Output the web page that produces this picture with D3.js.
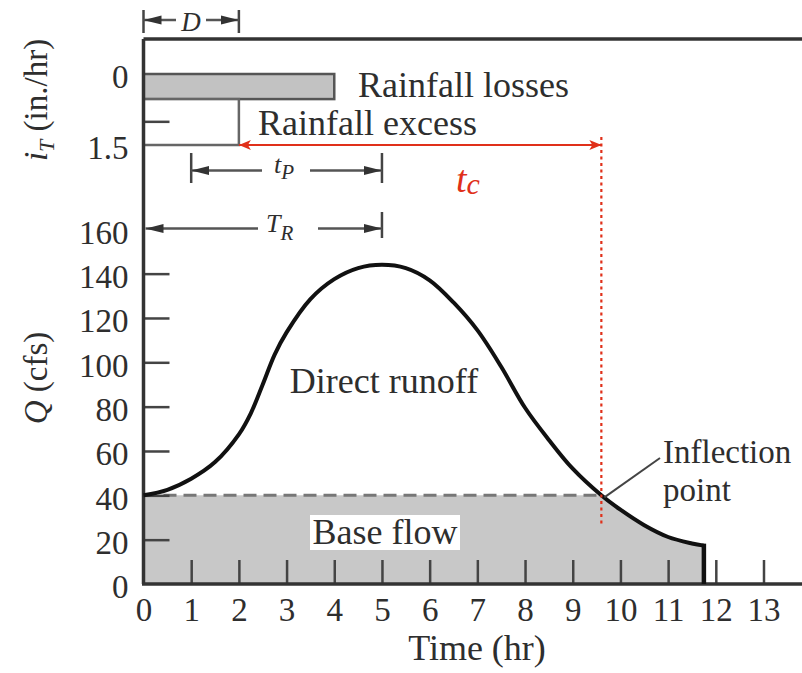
<!DOCTYPE html>
<html><head><meta charset="utf-8">
<script src="https://cdn.jsdelivr.net/npm/d3@7"></script>
<style>
body{margin:0;background:#fff}
svg{display:block}
svg text{font-family:"Liberation Serif","Tinos","Times New Roman","Times","Nimbus Roman","DejaVu Serif",serif;fill:#2e2e2e}
</style>
</head><body>
<svg id="c" width="802" height="673"></svg>
<script>
// ---- data ----
const timeHr  = [0,0.5,1,1.5,2,2.25,2.5,2.75,3,3.5,4,4.5,5,5.5,6,6.5,7,7.5,8,8.5,9,9.6,10,10.5,11,11.5,11.75];
const flowCfs = [40,42.5,47.5,55,67.5,77,90,103.5,113.5,128.5,137.5,142.5,144,142.5,137,127,114.5,98,79.5,65,52,40,33.5,26.5,21.2,18.3,17.3];
const baseFlowCfs = 40;
const inflectionHr = 9.6;

const rainSeries = ["Rainfall losses","Rainfall excess"];
const rainEndHr  = [4, 2];
const rainLow    = [0, 0.53];
const rainHigh   = [0.53, 1.5];

const timeTicks = [0,1,2,3,4,5,6,7,8,9,10,11,12,13];
const qTicks    = [0,20,40,60,80,100,120,140,160];
const rainTicks = [0,1.5];
const rainMinorTicks = [1];

const spanD  = [0,2];
const spanTp = [1,5];
const spanTr = [0,5];
const spanTc = [2,9.6];

const FONT = "Liberation Serif, Tinos, Times New Roman, Times, Nimbus Roman, DejaVu Serif, serif";

// ---- scales ----
const svg = d3.select("#c");
const x = d3.scaleLinear().domain([0,13]).range([143.5,763.5]);
const yQ = d3.scaleLinear().domain([0,160]).range([584,229.3]);
const yR = d3.scaleLinear().domain([0,1.5]).range([74,145]);

const hydro = timeHr.map((t,i)=>({t, q:flowCfs[i]}));
const smooth = d3.curveCatmullRom.alpha(0.5);

// markers
const defs = svg.append("defs");
defs.append("marker").attr("id","ag").attr("viewBox","0 0 18 10")
  .attr("refX",18).attr("refY",5).attr("markerWidth",18).attr("markerHeight",10)
  .attr("markerUnits","userSpaceOnUse").attr("orient","auto-start-reverse")
  .append("path").attr("d","M0,0.5L18,5L0,9.5Z").attr("fill","#333");
defs.append("marker").attr("id","ar").attr("viewBox","0 0 12 10")
  .attr("refX",12).attr("refY",5).attr("markerWidth",12).attr("markerHeight",10)
  .attr("markerUnits","userSpaceOnUse").attr("orient","auto-start-reverse")
  .append("path").attr("d","M0,0L12,5L0,10L3,5Z").attr("fill","#e0301a");
defs.append("clipPath").attr("id","baseclip").append("rect")
  .attr("x",x(0)).attr("y",yQ(baseFlowCfs)).attr("width",700).attr("height",yQ(0)-yQ(baseFlowCfs));

// ---- base flow fill ----
const area = d3.area().x(d=>x(d.t)).y0(yQ(0)).y1(d=>yQ(d.q)).curve(smooth);
svg.append("path").datum(hydro).attr("d",area).attr("fill","#c8c8c8").attr("clip-path","url(#baseclip)");

// dashed base-flow line
svg.append("line").attr("x1",x(0)).attr("x2",x(inflectionHr))
  .attr("y1",yQ(baseFlowCfs)).attr("y2",yQ(baseFlowCfs))
  .attr("stroke","#777").attr("stroke-width",3).attr("stroke-dasharray","13,7");

// Base flow label
svg.append("rect").attr("x",310).attr("y",515).attr("width",150).attr("height",35).attr("fill","#fff");
svg.append("text").attr("x",385).attr("y",544).attr("text-anchor","middle").attr("font-size",36).text("Base flow");

// ---- rainfall bars ----
svg.append("rect").attr("x",x(0)).attr("y",yR(rainLow[0]))
  .attr("width",x(rainEndHr[0])-x(0)).attr("height",yR(rainHigh[0])-yR(rainLow[0]))
  .attr("fill","#c2c2c2").attr("stroke","#555").attr("stroke-width",2.5);
svg.append("rect").attr("x",x(0)).attr("y",yR(rainLow[1]))
  .attr("width",x(rainEndHr[1])-x(0)).attr("height",yR(rainHigh[1])-yR(rainLow[1]))
  .attr("fill","#fff").attr("stroke","#666").attr("stroke-width",2.5);
svg.append("text").attr("x",358).attr("y",97).attr("font-size",36).text(rainSeries[0]);
svg.append("text").attr("x",258).attr("y",135).attr("font-size",36).text(rainSeries[1]);

// ---- axes ----
const xAxis = d3.axisBottom(x).tickValues(timeTicks).tickSizeInner(-24).tickSizeOuter(0).tickPadding(14);
const gx = svg.append("g").attr("transform",`translate(0,${yQ(0)})`).call(xAxis);
const yAxis = d3.axisLeft(yQ).tickValues(qTicks).tickSizeInner(-26).tickSizeOuter(0).tickPadding(15);
const gy = svg.append("g").attr("transform",`translate(${x(0)},0)`).call(yAxis);
const rAxis = d3.axisLeft(yR).tickValues(rainTicks).tickFormat(d=>String(d)).tickSizeInner(0).tickSizeOuter(0).tickPadding(15);
const gr = svg.append("g").attr("transform",`translate(${x(0)},0)`).call(rAxis);
const rMinor = d3.axisLeft(yR).tickValues(rainMinorTicks).tickSizeInner(-26).tickSizeOuter(0).tickFormat("");
const gm = svg.append("g").attr("transform",`translate(${x(0)},0)`).call(rMinor);
[gx,gy,gr,gm].forEach(g=>{
  g.attr("font-family",FONT).attr("font-size",33);
  g.select(".domain").remove();
  g.selectAll(".tick line").attr("stroke","#444").attr("stroke-width",2.5);
  g.selectAll(".tick text").attr("font-size",33).attr("fill","#2e2e2e");
});
gx.selectAll(".tick").filter(d=>d===0).select("line").remove();
gy.selectAll(".tick").filter(d=>d===0||d===160).select("line").remove();
gy.selectAll(".tick text").attr("dy","0.42em");
gr.selectAll(".tick text").attr("dy","0.40em");

// frame lines
svg.append("line").attr("x1",x(0)).attr("x2",x(0)).attr("y1",39).attr("y2",yQ(0)).attr("stroke","#333").attr("stroke-width",3.5);
svg.append("line").attr("x1",x(0)).attr("x2",802).attr("y1",39).attr("y2",39).attr("stroke","#333").attr("stroke-width",3.5);
svg.append("line").attr("x1",x(0)-1.5).attr("x2",802).attr("y1",yQ(0)).attr("y2",yQ(0)).attr("stroke","#333").attr("stroke-width",3.5);

// ---- hydrograph ----
const line = d3.line().x(d=>x(d.t)).y(d=>yQ(d.q)).curve(smooth);
svg.append("path").datum(hydro).attr("d",line).attr("fill","none").attr("stroke","#111").attr("stroke-width",4);
const last = hydro[hydro.length-1];
svg.append("line").attr("x1",x(last.t)).attr("x2",x(last.t)).attr("y1",yQ(last.q)-2).attr("y2",yQ(0))
  .attr("stroke","#111").attr("stroke-width",4.5);

svg.append("text").attr("x",384).attr("y",393).attr("text-anchor","middle").attr("font-size",36).text("Direct runoff");

// ---- axis titles ----
svg.append("text").attr("transform","translate(47,378) rotate(-90)").attr("text-anchor","middle").attr("font-size",33)
  .html('<tspan font-style="italic">Q</tspan> (cfs)');
svg.append("text").attr("transform","translate(47,100) rotate(-90)").attr("text-anchor","middle").attr("font-size",33)
  .html('<tspan font-style="italic">i</tspan><tspan font-style="italic" font-size="22" dy="7">T</tspan><tspan dy="-7"> (in./hr)</tspan>');
svg.append("text").attr("x",477).attr("y",660).attr("text-anchor","middle").attr("font-size",36).text("Time (hr)");

// ---- dimension annotations ----
function bar(t,y1,y2){
  svg.append("line").attr("x1",x(t)).attr("x2",x(t)).attr("y1",y1).attr("y2",y2).attr("stroke","#444").attr("stroke-width",2.5);
}
function seg(xa,xb,y,startArrow){
  const l = svg.append("line").attr("x1",xa).attr("x2",xb).attr("y1",y).attr("y2",y).attr("stroke","#555").attr("stroke-width",2.5);
  if(startArrow) l.attr("marker-start","url(#ag)"); else l.attr("marker-end","url(#ag)");
}
// D
bar(spanD[0],10,33); bar(spanD[1],10,33);
seg(x(spanD[0]),176,20,true); seg(206,x(spanD[1]),20,false);
svg.append("text").attr("x",191).attr("y",31).attr("text-anchor","middle").attr("font-size",27).attr("font-style","italic").text("D");
// tP
bar(spanTp[0],153,183); bar(spanTp[1],153,183);
seg(x(spanTp[0]),262,170.5,true); seg(310,x(spanTp[1]),170.5,false);
svg.append("text").attr("x",274).attr("y",173).attr("font-size",26).attr("font-style","italic")
  .html('t<tspan font-size="21" dy="6">P</tspan>');
// TR
bar(spanTr[1],212,238);
seg(x(spanTr[0])+2,258,228.5,true); seg(318,x(spanTr[1]),228.5,false);
svg.append("text").attr("x",266).attr("y",232).attr("font-size",26).attr("font-style","italic")
  .html('T<tspan font-size="21" dy="8">R</tspan>');

// ---- tc (red) ----
svg.append("line").attr("x1",x(spanTc[0])).attr("x2",x(spanTc[1])).attr("y1",yR(1.5)).attr("y2",yR(1.5))
  .attr("stroke","#e0301a").attr("stroke-width",2.2)
  .attr("marker-start","url(#ar)").attr("marker-end","url(#ar)");
svg.append("line").attr("x1",x(spanTc[1])).attr("x2",x(spanTc[1])).attr("y1",137).attr("y2",524)
  .attr("stroke","#e0301a").attr("stroke-width",2.2).attr("stroke-dasharray","3,3.5");
svg.append("text").attr("x",456).attr("y",192).attr("font-size",38).attr("font-style","italic")
  .style("fill","#e0301a")
  .html('t<tspan font-size="30" dy="2">c</tspan>');

// ---- inflection label ----
svg.append("line").attr("x1",x(inflectionHr)+3).attr("y1",yQ(baseFlowCfs)+2).attr("x2",660).attr("y2",458)
  .attr("stroke","#444").attr("stroke-width",2);
svg.append("text").attr("x",663).attr("y",463).attr("font-size",33).text("Inflection");
svg.append("text").attr("x",663).attr("y",501).attr("font-size",33).text("point");
</script>
</body></html>
